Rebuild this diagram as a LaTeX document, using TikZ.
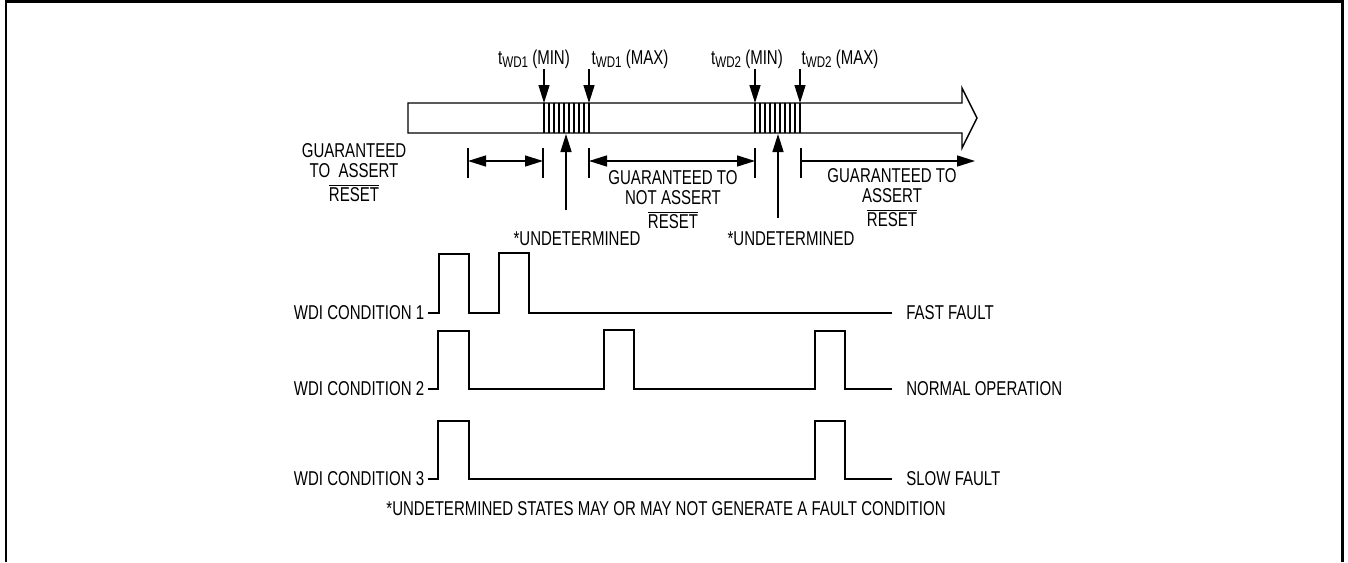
\documentclass[tikz,border=0pt]{standalone}
\usepackage{fontspec}
\setmainfont{Liberation Sans}[FakeStretch=0.75]
\usetikzlibrary{arrows.meta}
\newcommand{\rst}{$\overline{\mbox{RESET}}$}
\newcommand{\twd}[1]{t\raisebox{-0.3ex}{\fontsize{8.8}{9}\selectfont WD#1}}

\begin{document}
\begin{tikzpicture}[x=0.02cm, y=-0.02cm, font=\fontsize{11.4}{11}\selectfont,
	>={Triangle[length=0.36cm,width=0.22cm]}]
 \useasboundingbox (0,0) rectangle (1348,562);

	% Cadre
 \draw[line width=1.5pt] (6,562) -- (6,1.5) -- (1342.5,1.5) -- (1342.5,562);

	% Fleche du temps
 \draw[thick] (408,103) -- (962,103) -- (962,88) -- (977,118) -- (962,148) -- (962,133) -- (408,133) -- cycle;
 \foreach \x in {544,755} {
   \foreach \i in {0,...,9} \draw[thick] (\x+5*\i,103) -- (\x+5*\i,133);
   \draw[line width=1.2pt] (\x,103) -- (\x,133);
   \draw[line width=1.2pt] (\x+45,103) -- (\x+45,133);
 }

	% Instants
 \node[anchor=base] (min1) at (534,64) {\twd{1} (MIN)};
 \node[anchor=base] (max1) at (630,64) {\twd{1} (MAX)};
 \node[anchor=base] (min2) at (747,64) {\twd{2} (MIN)};
 \node[anchor=base] (max2) at (840,64) {\twd{2} (MAX)};
 \draw[thick,->] (544,69) -- (544,103);
 \draw[thick,->] (589,69) -- (589,103);
 \draw[thick,->] (755,69) -- (755,103);
 \draw[thick,->] (800,69) -- (800,103);

	% Zones
 \foreach \x in {468,543,589,755,801} \draw[thick] (\x,148) -- (\x,178);
 \draw[thick,<->] (468,161) -- (543,161);
 \draw[thick,<->] (589,161) -- (755,161);
 \draw[thick,->] (801,161) -- (975,161);

 \node[align=center] (ga1) at (354,173) {GUARANTEED\\TO\ \ ASSERT\\[3pt]\rst};
 \node[align=center] (gna) at (673,200) {GUARANTEED TO\\NOT ASSERT\\[3pt]\rst};
 \node[align=center] (ga2) at (892,198) {GUARANTEED TO\\ASSERT\\[3pt]\rst};

	% Etats indetermines
 \node (und1) at (577,239) {*UNDETERMINED};
 \node (und2) at (791,239) {*UNDETERMINED};
 \draw[thick,->] (566,210) -- (566,134);
 \draw[thick,->] (778,218) -- (778,134);

	% Signaux WDI
 \node[anchor=east, inner sep=2pt] (c1) at (428,313) {WDI CONDITION 1};
 \node[anchor=east, inner sep=2pt] (c2) at (428,389) {WDI CONDITION 2};
 \node[anchor=east, inner sep=2pt] (c3) at (428,479) {WDI CONDITION 3};
 \node[anchor=west, inner sep=0pt] (f1) at (906,313) {FAST FAULT};
 \node[anchor=west, inner sep=0pt] (f2) at (906,389) {NORMAL OPERATION};
 \node[anchor=west, inner sep=0pt] (f3) at (906,479) {SLOW FAULT};

 \draw[thick] (c1.east) -- (439,313) -- (439,254) -- (469,254) -- (469,313) -- (499,313)
   -- (499,253) -- (529,253) -- (529,313) -- (892,313);
 \draw[thick] (c2.east) -- (438,389) -- (438,331) -- (469,331) -- (469,389) -- (604,389)
   -- (604,330) -- (634,330) -- (634,389) -- (815,389) -- (815,331) -- (845,331) -- (845,389) -- (892,389);
 \draw[thick] (c3.east) -- (438,479) -- (438,421) -- (469,421) -- (469,479) -- (815,479)
   -- (815,421) -- (845,421) -- (845,479) -- (892,479);

 \node (note) at (666,509) {*UNDETERMINED STATES MAY OR MAY NOT GENERATE A FAULT CONDITION};

\end{tikzpicture}
\end{document}
